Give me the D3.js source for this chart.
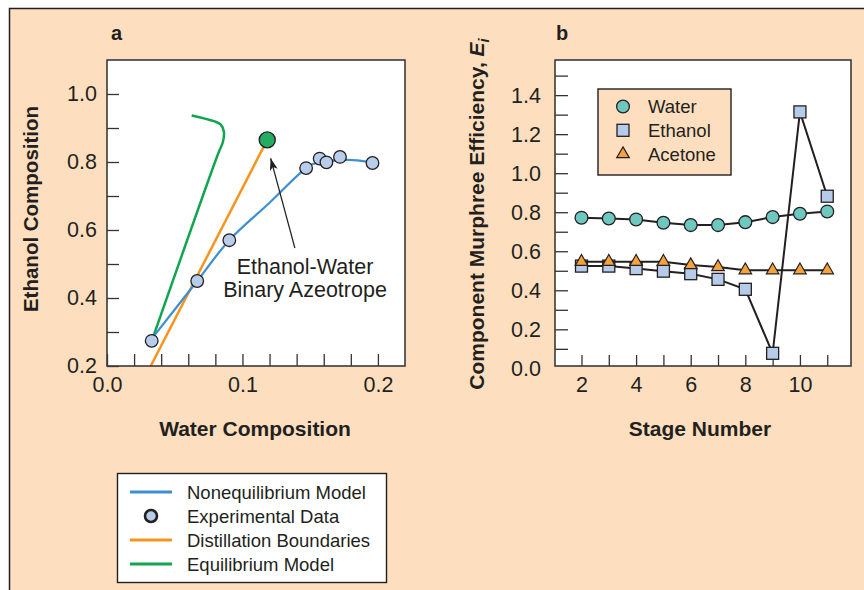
<!DOCTYPE html>
<html>
<head>
<meta charset="utf-8">
<script src="https://cdn.jsdelivr.net/npm/d3@7"></script>
<style>
  body { margin: 0; background: #fff; }
  svg { display: block; font-family: "Liberation Sans", Arial, sans-serif; }
  .tick text { fill: #231f20; }
</style>
</head>
<body>
<div id="chart"></div>
<script>
// panel a: ethanol / water compositions
const expWater = [0.033, 0.0666, 0.0903, 0.147, 0.157, 0.162, 0.172, 0.196];
const expEthanol = [0.274, 0.450, 0.570, 0.782, 0.810, 0.799, 0.815, 0.797];
const nonEqWater = [0.034, 0.0666, 0.0903, 0.12, 0.1437, 0.152, 0.167, 0.178, 0.1917, 0.196];
const nonEqEthanol = [0.285, 0.450, 0.570, 0.68, 0.771, 0.794, 0.804, 0.806, 0.801, 0.797];
const eqWater = [0.0345, 0.0821, 0.0855, 0.0863, 0.084, 0.079, 0.0625];
const eqEthanol = [0.29, 0.825, 0.858, 0.889, 0.910, 0.920, 0.937];
const boundWater = [0.0323, 0.1183];
const boundEthanol = [0.2, 0.865];
const azeotrope = [0.1183, 0.865];
const legendA = ['Nonequilibrium Model', 'Experimental Data', 'Distillation Boundaries', 'Equilibrium Model'];

// panel b: Murphree efficiencies per stage
const stages = [2, 3, 4, 5, 6, 7, 8, 9, 10, 11];
const waterEff = [0.772, 0.768, 0.763, 0.746, 0.734, 0.734, 0.749, 0.775, 0.792, 0.804];
const ethanolEff = [0.524, 0.524, 0.511, 0.498, 0.485, 0.456, 0.405, 0.077, 1.314, 0.882];
const acetoneEff = [0.546, 0.546, 0.546, 0.546, 0.529, 0.519, 0.503, 0.503, 0.503, 0.503];
const legendB = ['Water', 'Ethanol', 'Acetone'];

const w = 864, h = 590;
const ink = '#231f20';
const peach = '#fddfbf';
const blue = '#3d8fd1', orange = '#f7941d', green = '#12a54f';

const svg = d3.select('#chart').append('svg').attr('width', w).attr('height', h);

svg.append('rect').attr('x', 9.5).attr('y', 8.5).attr('width', 900).attr('height', 700)
  .attr('fill', peach).attr('stroke', ink).attr('stroke-width', 1.5);

// ---------- panel a ----------
const xA = d3.scaleLinear().domain([0, 0.22]).range([107, 405]);
const yA = d3.scaleLinear().domain([0.2, 1.1]).range([366, 60]);

svg.append('rect').attr('x', 107).attr('y', 60).attr('width', 298).attr('height', 306)
  .attr('fill', '#fff');

const xAxisA = d3.axisBottom(xA)
  .tickValues(d3.range(0, 0.2001, 0.02))
  .tickFormat(d => (Math.round(d * 100) % 10 === 0) ? d3.format('.1f')(d) : '')
  .tickSizeInner(-12).tickSizeOuter(0).tickPadding(11);
const yAxisA = d3.axisLeft(yA)
  .tickValues(d3.range(0.2, 1.0001, 0.1))
  .tickFormat(d => (Math.round(d * 10) % 2 === 0) ? d3.format('.1f')(d) : '')
  .tickSizeInner(-12).tickSizeOuter(0).tickPadding(10);

svg.append('g').attr('transform', 'translate(0,366)').call(xAxisA)
  .call(g => g.select('.domain').remove());
svg.append('g').attr('transform', 'translate(107,0)').call(yAxisA)
  .call(g => g.select('.domain').remove());

const lineA = d3.line().x(d => xA(d[0])).y(d => yA(d[1]));

svg.append('path').datum(d3.zip(boundWater, boundEthanol))
  .attr('d', lineA).attr('fill', 'none').attr('stroke', orange).attr('stroke-width', 2.5);
svg.append('path').datum(d3.zip(eqWater, eqEthanol))
  .attr('d', lineA.curve(d3.curveCatmullRom.alpha(0.5)))
  .attr('fill', 'none').attr('stroke', green).attr('stroke-width', 2.5);
svg.append('path').datum(d3.zip(nonEqWater, nonEqEthanol))
  .attr('d', lineA.curve(d3.curveCatmullRom.alpha(0.5)))
  .attr('fill', 'none').attr('stroke', blue).attr('stroke-width', 2.2);

svg.append('g').selectAll('circle').data(d3.zip(expWater, expEthanol)).enter().append('circle')
  .attr('cx', d => xA(d[0])).attr('cy', d => yA(d[1])).attr('r', 6.3)
  .attr('fill', '#b8cde9').attr('stroke', ink).attr('stroke-width', 1.3);

svg.append('circle').attr('cx', xA(azeotrope[0])).attr('cy', yA(azeotrope[1])).attr('r', 8)
  .attr('fill', '#22ad62').attr('stroke', ink).attr('stroke-width', 1.4);

// annotation arrow
svg.append('defs').append('marker').attr('id', 'arrow')
  .attr('viewBox', '0 0 12 8').attr('refX', 12).attr('refY', 4)
  .attr('markerWidth', 12).attr('markerHeight', 8).attr('markerUnits', 'userSpaceOnUse')
  .attr('orient', 'auto')
  .append('path').attr('d', 'M0,0 L12,4 L0,8 L3,4 Z').attr('fill', ink);
svg.append('line')
  .attr('x1', xA(0.1387)).attr('y1', yA(0.547))
  .attr('x2', xA(0.1208)).attr('y2', yA(0.811))
  .attr('stroke', ink).attr('stroke-width', 1.2).attr('marker-end', 'url(#arrow)');
const note = svg.append('text').attr('text-anchor', 'middle').attr('fill', ink)
  .style('font-size', '21.5px');
note.append('tspan').attr('x', 305).attr('y', 274).text('Ethanol-Water');
note.append('tspan').attr('x', 305).attr('y', 297).text('Binary Azeotrope');

svg.append('rect').attr('x', 107).attr('y', 60).attr('width', 298).attr('height', 306)
  .attr('fill', 'none').attr('stroke', '#3a3a3a').attr('stroke-width', 1.6);

svg.append('text').attr('x', 111).attr('y', 40).text('a')
  .style('font-size', '20px').style('font-weight', 'bold').attr('fill', ink);
svg.append('text').attr('x', 255).attr('y', 436).attr('text-anchor', 'middle')
  .text('Water Composition').style('font-size', '21px').style('font-weight', 'bold').attr('fill', ink);
svg.append('text').attr('transform', 'translate(38,209) rotate(-90)').attr('text-anchor', 'middle')
  .text('Ethanol Composition').style('font-size', '20.5px').style('font-weight', 'bold').attr('fill', ink);

// legend a
const legA = svg.append('g');
legA.append('rect').attr('x', 117.5).attr('y', 473.5).attr('width', 269).attr('height', 109)
  .attr('fill', '#fff').attr('stroke', ink).attr('stroke-width', 1.4);
const legColors = [blue, null, orange, green];
legendA.forEach((name, i) => {
  const yy = 492 + i * 24;
  if (legColors[i]) {
    legA.append('line').attr('x1', 130).attr('x2', 172).attr('y1', yy).attr('y2', yy)
      .attr('stroke', legColors[i]).attr('stroke-width', 3);
  } else {
    legA.append('circle').attr('cx', 151).attr('cy', yy).attr('r', 6)
      .attr('fill', '#b8cde9').attr('stroke', ink).attr('stroke-width', 2.6);
  }
  legA.append('text').attr('x', 187).attr('y', yy + 6.5).text(name)
    .style('font-size', '18.5px').attr('fill', ink);
});

// ---------- panel b ----------
const xB = d3.scaleLinear().domain([1.03, 11.87]).range([555, 851]);
const yB = d3.scaleLinear().domain([0.012, 1.58]).range([366, 60]);

svg.append('rect').attr('x', 555).attr('y', 60).attr('width', 296).attr('height', 306)
  .attr('fill', '#fff');

const xAxisB = d3.axisBottom(xB).tickValues(stages)
  .tickFormat(d => d % 2 === 0 ? d : '')
  .tickSizeInner(-11).tickSizeOuter(0).tickPadding(11);
const yAxisB = d3.axisLeft(yB).tickValues(d3.range(0, 1.5001, 0.1))
  .tickFormat(d => (Math.round(d * 10) % 2 === 0 && d < 1.45) ? d3.format('.1f')(d) : '')
  .tickSizeInner(-13).tickSizeOuter(0).tickPadding(14);

svg.append('g').attr('transform', 'translate(0,366)').call(xAxisB)
  .call(g => g.select('.domain').remove());
svg.append('g').attr('transform', 'translate(555,0)').call(yAxisB)
  .call(g => g.select('.domain').remove())
  .call(g => g.selectAll('.tick').filter(d => d < 0.05).select('line').remove());

svg.selectAll('.tick line').attr('stroke', '#333').attr('stroke-width', 1.3);
svg.selectAll('.tick text').style('font-size', '21.5px').attr('fill', ink);

const lineB = d3.line().x((d, i) => xB(stages[i])).y(d => yB(d));

function series(values, drawMark) {
  const g = svg.append('g');
  g.append('path').datum(values).attr('d', lineB)
    .attr('fill', 'none').attr('stroke', ink).attr('stroke-width', 2);
  values.forEach((v, i) => drawMark(g, xB(stages[i]), yB(v)));
}

function square(g, x, y) {
  g.append('rect').attr('x', x - 6).attr('y', y - 6).attr('width', 12).attr('height', 12)
    .attr('fill', '#b5cbe9').attr('stroke', ink).attr('stroke-width', 1.3);
}
function triangle(g, x, y) {
  g.append('path').attr('d', d3.symbol(d3.symbolTriangle, 68)())
    .attr('transform', 'translate(' + x + ',' + y + ')')
    .attr('fill', '#f6a23c').attr('stroke', ink).attr('stroke-width', 1.2);
}
function dot(g, x, y) {
  g.append('circle').attr('cx', x).attr('cy', y).attr('r', 6.4)
    .attr('fill', '#6ec8bf').attr('stroke', ink).attr('stroke-width', 1.3);
}

series(ethanolEff, square);
series(acetoneEff, triangle);
series(waterEff, dot);

svg.append('rect').attr('x', 555).attr('y', 60).attr('width', 296).attr('height', 306)
  .attr('fill', 'none').attr('stroke', '#3a3a3a').attr('stroke-width', 1.6);

// legend b
const legB = svg.append('g');
legB.append('rect').attr('x', 598).attr('y', 89).attr('width', 133).attr('height', 86)
  .attr('fill', peach).attr('stroke', ink).attr('stroke-width', 1.4);
const legMarks = [dot, square, triangle];
legendB.forEach((name, i) => {
  const yy = 106.5 + i * 23.8;
  legMarks[i](legB, 623, yy);
  legB.append('text').attr('x', 648).attr('y', yy + 6.5).text(name)
    .style('font-size', '18.5px').attr('fill', ink);
});

svg.append('text').attr('x', 556).attr('y', 40).text('b')
  .style('font-size', '20px').style('font-weight', 'bold').attr('fill', ink);
svg.append('text').attr('x', 700).attr('y', 436).attr('text-anchor', 'middle')
  .text('Stage Number').style('font-size', '21px').style('font-weight', 'bold').attr('fill', ink);
const yTitle = svg.append('text').attr('transform', 'translate(484,214) rotate(-90)')
  .attr('text-anchor', 'middle').style('font-size', '21px').style('font-weight', 'bold').attr('fill', ink);
yTitle.append('tspan').text('Component Murphree Efficiency, ');
yTitle.append('tspan').style('font-style', 'italic').text('E');
yTitle.append('tspan').style('font-style', 'italic').style('font-size', '15px')
  .attr('dy', 5).text('i');
</script>
</body>
</html>
